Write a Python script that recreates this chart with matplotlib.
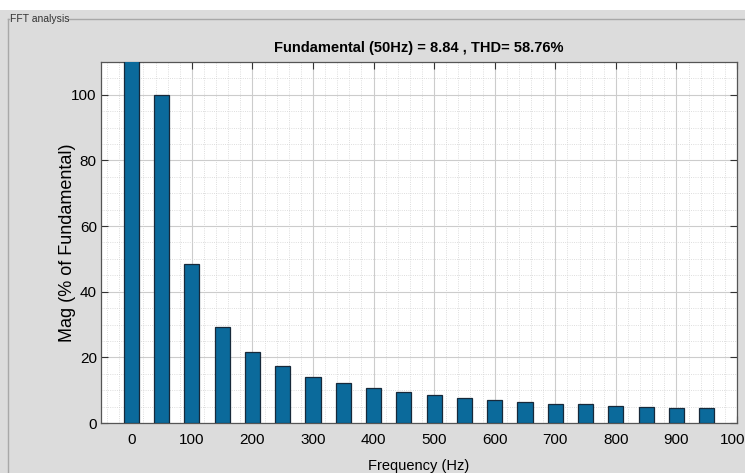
import numpy as np
import matplotlib
matplotlib.use("Agg")
import matplotlib.pyplot as plt
from matplotlib.lines import Line2D
from matplotlib.patches import Rectangle
from matplotlib.ticker import MultipleLocator

# harmonic frequencies (Hz) and magnitudes (% of fundamental)
freqs = [0, 50, 100, 150, 200, 250, 300, 350, 400, 450,
         500, 550, 600, 650, 700, 750, 800, 850, 900, 950]
mags = [150, 100, 48.5, 29.4, 21.5, 17.4, 14.1, 12.3, 10.6, 9.5,
        8.5, 7.7, 7.0, 6.5, 5.9, 5.7, 5.2, 5.0, 4.7, 4.5]
xticks = list(range(0, 1001, 100))
yticks = [0, 20, 40, 60, 80, 100]

narrow = ["Liberation Sans Narrow", "Liberation Sans", "DejaVu Sans"]
regular = ["Liberation Sans", "DejaVu Sans"]

W, H = 745, 473
fig = plt.figure(figsize=(W / 100, H / 100), dpi=100, facecolor="#dcdcdc")

# panel decoration (white strip + group box outline)
fig.patches.append(Rectangle((0, 1 - 10 / H), 1, 10 / H, transform=fig.transFigure,
                             facecolor="white", edgecolor="none", zorder=0))
fig.lines.append(Line2D([8 / W, 8 / W], [0, 1 - 19 / H], transform=fig.transFigure,
                        color="#a8a8a8", lw=1))
fig.lines.append(Line2D([8 / W, 9 / W], [1 - 19 / H, 1 - 19 / H], transform=fig.transFigure,
                        color="#a8a8a8", lw=1))
fig.lines.append(Line2D([68 / W, 1], [1 - 19 / H, 1 - 19 / H], transform=fig.transFigure,
                        color="#a8a8a8", lw=1))
fig.text(10 / W, 1 - 19 / H, "FFT analysis", family=narrow, fontsize=7.5,
         va="center", ha="left", color="#333333")

ax = fig.add_axes([101 / W, 50 / H, 636 / W, 361 / H])
ax.set_facecolor("white")
ax.bar(freqs, mags, width=25, color="#0b6a9b", edgecolor="#17293a", linewidth=0.9, zorder=3)

ax.set_xlim(-50, 1000)
ax.set_ylim(0, 110)
ax.set_xticks(xticks)
ax.set_yticks(yticks)
ax.xaxis.set_minor_locator(MultipleLocator(20))
ax.yaxis.set_minor_locator(MultipleLocator(5))
ax.grid(True, which="major", color="#cccccc", lw=0.8, zorder=0)
ax.grid(True, which="minor", color="#d2d2d2", lw=0.6, ls=":", zorder=0)
ax.set_axisbelow(True)
ax.tick_params(which="major", direction="in", length=5, top=True, right=True,
               color="#333333", labelsize=11)
ax.tick_params(axis="x", pad=7)
ax.tick_params(axis="y", pad=3)
ax.tick_params(which="minor", length=0)
for lab in ax.get_xticklabels() + ax.get_yticklabels():
    lab.set_family(narrow)
for s in ax.spines.values():
    s.set_color("#555555")
    s.set_linewidth(0.9)

ax.set_title("Fundamental (50Hz) = 8.84 , THD= 58.76%", family=narrow,
             fontsize=10.5, fontweight="bold", pad=7)
ax.set_xlabel("Frequency (Hz)", family=narrow, fontsize=10.5, labelpad=9)
ax.set_ylabel("Mag (% of Fundamental)", family=regular, fontsize=13)
ax.yaxis.set_label_coords(-0.04, 0.5)

fig.savefig("out.png", dpi=100, facecolor=fig.get_facecolor())
